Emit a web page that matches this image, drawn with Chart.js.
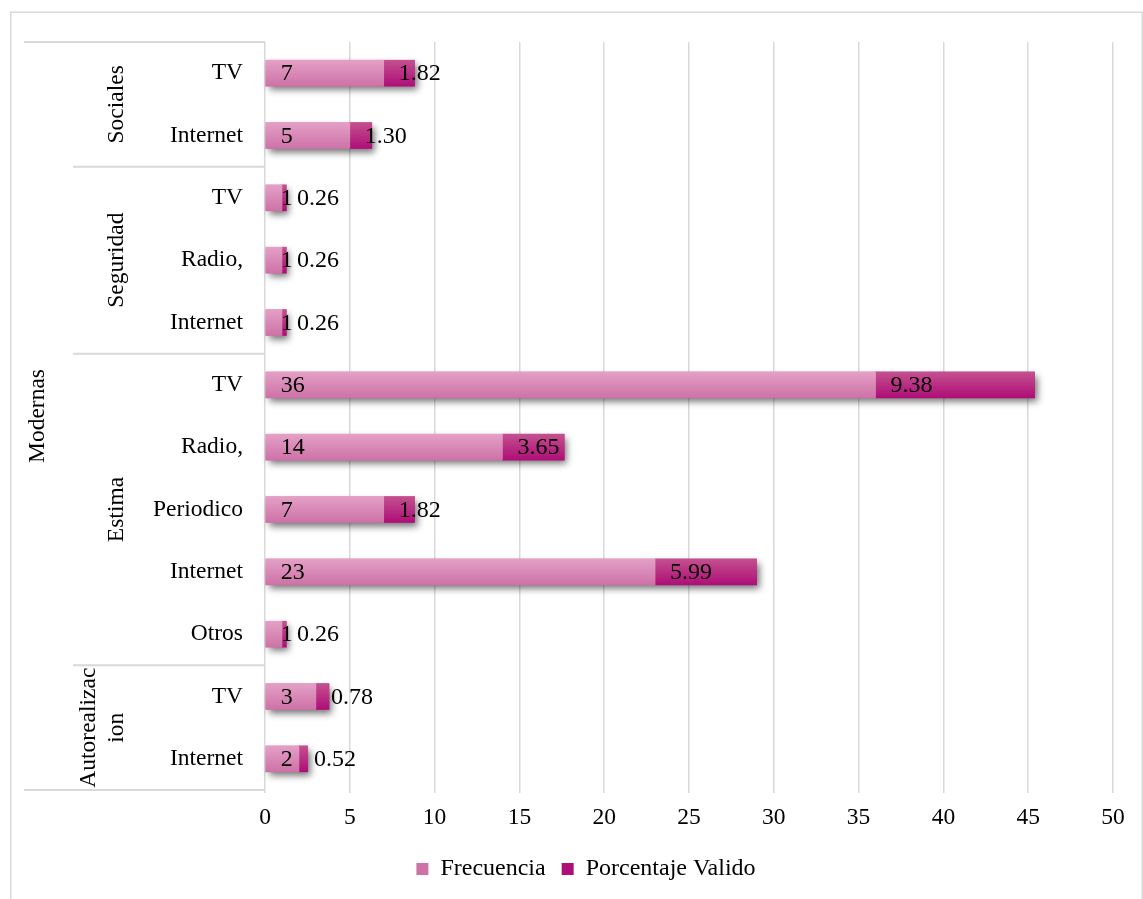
<!DOCTYPE html>
<html>
<head>
<meta charset="utf-8">
<script src="https://cdn.jsdelivr.net/npm/chart.js@4/dist/chart.umd.min.js"></script>
<style>
  html, body { margin: 0; padding: 0; background: #ffffff; }
  #wrap { width: 1143px; height: 899px; position: relative; }
</style>
</head>
<body>
<div id="wrap"><canvas id="c"></canvas></div>
<script>
// ---- Data ----
const categories = ['TV', 'Internet', 'TV', 'Radio,', 'Internet', 'TV', 'Radio,', 'Periodico', 'Internet', 'Otros', 'TV', 'Internet'];
const groupNames = [['Sociales'], ['Seguridad'], ['Estima'], ['Autorealizac', 'ion']];
const groupSizes = [2, 3, 5, 2];
const topGroupName = 'Modernas';
const frecuencia = [7, 5, 1, 1, 1, 36, 14, 7, 23, 1, 3, 2];
const porcentaje = [1.82, 1.30, 0.26, 0.26, 0.26, 9.38, 3.65, 1.82, 5.99, 0.26, 0.78, 0.52];
const seriesNames = ['Frecuencia', 'Porcentaje Valido'];
const xMin = 0, xMax = 50, xStep = 5;

// ---- Styles ----
const FONT = '"Liberation Serif", "Times New Roman", serif';
const FS = 23.5;
const FS_BIG = 24;
const BAR_T = 26;
const GRID = '#D9D9D9';

function grad(top, bottom, solid) {
  return (c) => {
    const chart = c.chart;
    const ys = chart.scales && chart.scales.y;
    if (!ys || c.dataIndex === undefined || c.type !== 'data') return solid;
    const y = ys.getPixelForValue(c.dataIndex);
    if (!isFinite(y)) return solid;
    const g = chart.ctx.createLinearGradient(0, y - BAR_T / 2, 0, y + BAR_T / 2);
    g.addColorStop(0, top);
    g.addColorStop(1, bottom);
    return g;
  };
}

const bgPlugin = {
  id: 'bg',
  beforeDraw(chart) {
    const ctx = chart.ctx;
    ctx.save();
    ctx.fillStyle = '#ffffff';
    ctx.fillRect(0, 0, chart.width, chart.height);
    ctx.strokeStyle = GRID;
    ctx.lineWidth = 1.5;
    ctx.beginPath();
    ctx.moveTo(10.75, chart.height + 2);
    ctx.lineTo(10.75, 12.25);
    ctx.lineTo(1142.25, 12.25);
    ctx.lineTo(1142.25, chart.height + 2);
    ctx.stroke();
    ctx.restore();
  }
};

const shadowPlugin = {
  id: 'barShadow',
  beforeDatasetsDraw(chart) {
    const m0 = chart.getDatasetMeta(0), m1 = chart.getDatasetMeta(1);
    const ctx = chart.ctx;
    ctx.save();
    ctx.shadowColor = 'rgba(0,0,0,0.55)';
    ctx.shadowBlur = 7;
    ctx.shadowOffsetX = 3;
    ctx.shadowOffsetY = 4;
    ctx.fillStyle = '#C8669F';
    m0.data.forEach((el, i) => {
      const e1 = m1.data[i];
      const x0 = el.base, x1 = e1.x;
      ctx.fillRect(x0, el.y - el.height / 2, x1 - x0, el.height);
    });
    ctx.restore();
  }
};

const labelPlugin = {
  id: 'barLabels',
  afterDatasetsDraw(chart) {
    const ctx = chart.ctx;
    ctx.save();
    ctx.font = FS_BIG + 'px ' + FONT;
    ctx.fillStyle = '#000000';
    ctx.textAlign = 'left';
    ctx.textBaseline = 'middle';
    [0, 1].forEach(di => {
      const meta = chart.getDatasetMeta(di);
      const vals = chart.data.datasets[di].data;
      meta.data.forEach((el, i) => {
        const txt = di === 0 ? String(vals[i]) : vals[i].toFixed(2);
        ctx.fillText(txt, el.base + 15, el.y + 1);
      });
    });
    ctx.restore();
  }
};

const hierPlugin = {
  id: 'hier',
  afterDraw(chart) {
    const ctx = chart.ctx;
    const ys = chart.scales.y;
    const ca = chart.chartArea;
    const step = ys.getPixelForValue(1) - ys.getPixelForValue(0);
    const edge = (idx) => ys.getPixelForValue(idx) - step / 2;
    ctx.save();
    ctx.strokeStyle = GRID;
    ctx.lineWidth = 2;
    ctx.beginPath();
    ctx.moveTo(24, ca.top); ctx.lineTo(ca.left, ca.top);
    ctx.moveTo(24, ca.bottom); ctx.lineTo(ca.left, ca.bottom);
    let idx = 0;
    for (let g = 0; g < groupSizes.length - 1; g++) {
      idx += groupSizes[g];
      const y = edge(idx);
      ctx.moveTo(73, y); ctx.lineTo(ca.left, y);
    }
    ctx.stroke();

    ctx.fillStyle = '#000000';
    ctx.font = FS + 'px ' + FONT;
    ctx.textAlign = 'center';
    ctx.textBaseline = 'middle';
    idx = 0;
    groupSizes.forEach((n, g) => {
      const yTop = edge(idx), yBot = edge(idx + n);
      const yc = (yTop + yBot) / 2;
      const lines = groupNames[g];
      lines.forEach((line, li) => {
        const x = 117 - (lines.length - 1 - li) * 28;
        ctx.save();
        ctx.translate(x, yc);
        ctx.rotate(-Math.PI / 2);
        ctx.fillText(line, 0, 0);
        ctx.restore();
      });
      idx += n;
    });
    ctx.save();
    ctx.translate(38, (ca.top + ca.bottom) / 2);
    ctx.rotate(-Math.PI / 2);
    ctx.fillText(topGroupName, 0, 0);
    ctx.restore();
    ctx.restore();
  }
};

Chart.defaults.font.family = FONT;
Chart.defaults.font.size = FS;
Chart.defaults.color = '#000000';

new Chart(document.getElementById('c'), {
  type: 'bar',
  data: {
    labels: categories,
    datasets: [
      {
        label: seriesNames[0],
        data: frecuencia,
        backgroundColor: grad('#E4A0C6', '#CD72A7', '#D98AB8'),
        barThickness: BAR_T,
        borderWidth: 0
      },
      {
        label: seriesNames[1],
        data: porcentaje,
        backgroundColor: grad('#C4508F', '#AE0E77', '#B71C7F'),
        barThickness: BAR_T,
        borderWidth: 0
      }
    ]
  },
  options: {
    indexAxis: 'y',
    responsive: true,
    maintainAspectRatio: false,
    devicePixelRatio: 1,
    animation: false,
    events: [],
    layout: { padding: { top: 42, right: 30, bottom: 8, left: 59 } },
    scales: {
      x: {
        stacked: true,
        min: xMin,
        max: xMax,
        ticks: { stepSize: xStep, padding: 11, font: { size: FS, family: FONT }, color: '#000' },
        grid: { color: GRID, lineWidth: 1.5, drawTicks: true, tickLength: 3 },
        border: { display: false },
        afterFit(s) { s.height = 51; }
      },
      y: {
        stacked: true,
        ticks: { padding: 22, autoSkip: false, font: { size: FS, family: FONT }, color: '#000' },
        grid: { display: false, drawTicks: false },
        border: { display: false },
        afterFit(s) { s.width = 206; }
      }
    },
    plugins: {
      legend: {
        position: 'bottom',
        labels: {
          boxWidth: 12,
          boxHeight: 12,
          padding: 16,
          color: '#000',
          font: { size: FS_BIG, family: FONT }
        }
      },
      tooltip: { enabled: false }
    }
  },
  plugins: [bgPlugin, shadowPlugin, labelPlugin, hierPlugin]
});
</script>
</body>
</html>
